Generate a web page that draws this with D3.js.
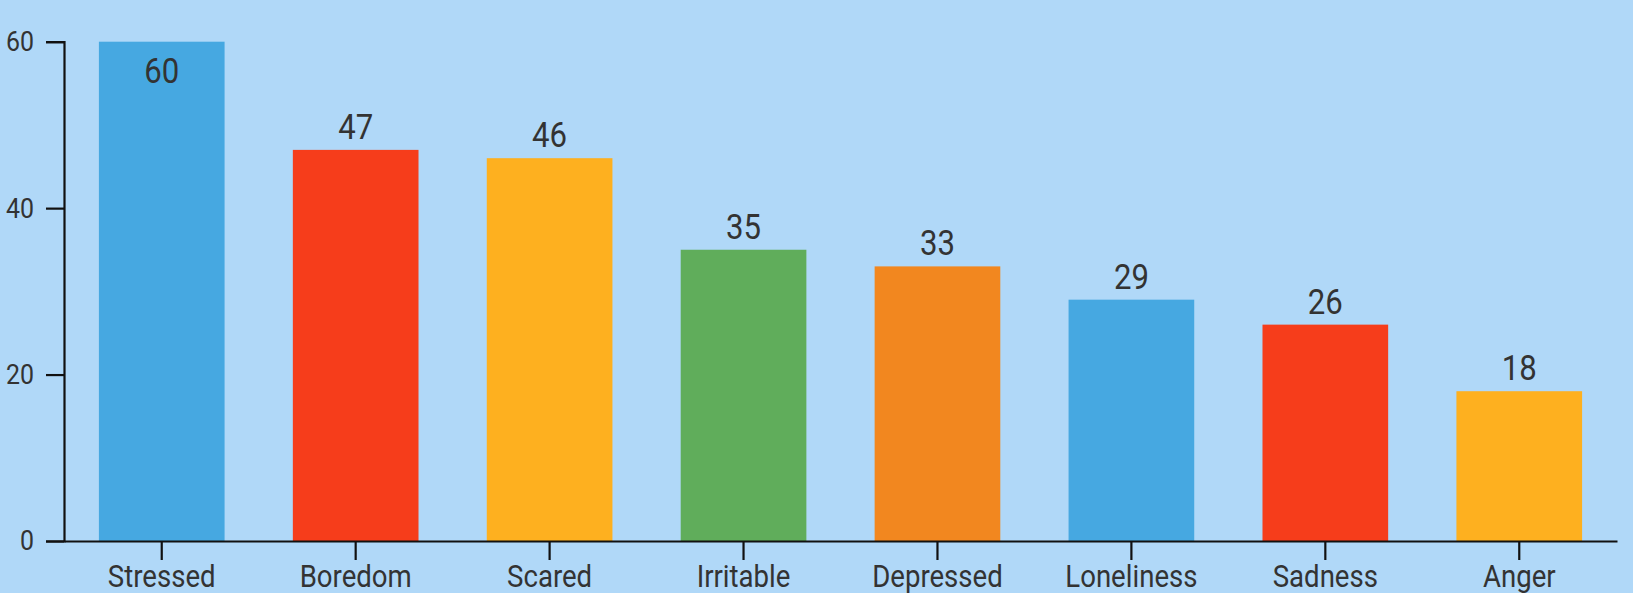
<!DOCTYPE html>
<html>
<head>
<meta charset="utf-8">
<script src="https://cdn.jsdelivr.net/npm/d3@7"></script>
<style>
  html, body { margin: 0; padding: 0; background: #b0d8f8; }
  svg { display: block; }
  text { font-family: Roboto, "Noto Sans", sans-serif; fill: #333; }
</style>
</head>
<body>
<svg id="chart" width="1633" height="593"></svg>
<script>
// Feelings reported, counts per category
const categories = ["Stressed", "Boredom", "Scared", "Irritable", "Depressed", "Loneliness", "Sadness", "Anger"];
const counts = [60, 47, 46, 35, 33, 29, 26, 18];
const barColors = ["#46a8e1", "#f63d1b", "#feb01f", "#60ad5b", "#f2871f", "#46a8e1", "#f63d1b", "#feb01f"];
const yTicks = [0, 20, 40, 60];

const W = 1633, H = 593;
const margin = { top: 41.7, right: 16, bottom: 52, left: 64 };
const squeeze = 0.89; // narrow the glyphs to a condensed look

const svg = d3.select("#chart");
const g = svg.append("g").attr("transform", `translate(${margin.left},${margin.top})`);
const innerW = W - margin.left - margin.right;
const innerH = H - margin.top - margin.bottom;

const x = d3.scaleBand().domain(categories).range([0, innerW])
  .paddingInner(0.352).paddingOuter(0.18);
const y = d3.scaleLinear().domain([0, 60]).range([innerH, 0]);

// bars
g.selectAll("rect.bar").data(categories).join("rect")
  .attr("class", "bar")
  .attr("x", d => x(d))
  .attr("width", x.bandwidth())
  .attr("y", (d, i) => y(counts[i]))
  .attr("height", (d, i) => innerH - y(counts[i]))
  .attr("fill", (d, i) => barColors[i]);

// value labels: above the bar, or inside when there is no room above
g.selectAll("text.val").data(categories).join("text")
  .attr("class", "val")
  .attr("text-anchor", "middle")
  .style("font-size", "35px")
  .attr("transform", (d, i) => {
    const top = y(counts[i]);
    const ly = top - 11 - 25 < 0 ? top + 41 : top - 11;
    return `translate(${x(d) + x.bandwidth() / 2},${ly}) scale(${squeeze},1)`;
  })
  .text((d, i) => counts[i]);

// axes
const yAxis = g.append("g")
  .call(d3.axisLeft(y).tickValues(yTicks).tickSize(18).tickPadding(12).tickFormat(d3.format("d")));
const xAxis = g.append("g").attr("transform", `translate(0,${innerH})`)
  .call(d3.axisBottom(x).tickSize(19).tickSizeOuter(0).tickPadding(5));

[yAxis, xAxis].forEach(ax => {
  ax.selectAll("path, line").attr("stroke", "#111").attr("stroke-width", 2.2);
  ax.attr("font-family", null).attr("font-size", null);
});
yAxis.selectAll("text").style("font-size", "28px");
xAxis.selectAll("text").style("font-size", "31px").attr("dy", "0.71em");

// apply the condensed squeeze to axis labels
g.selectAll(".tick text").each(function() {
  const t = d3.select(this);
  const tx = +t.attr("x") || 0, ty = +t.attr("y") || 0;
  t.attr("x", 0).attr("y", 0).attr("transform", `translate(${tx},${ty}) scale(${squeeze},1)`);
});
</script>
</body>
</html>
